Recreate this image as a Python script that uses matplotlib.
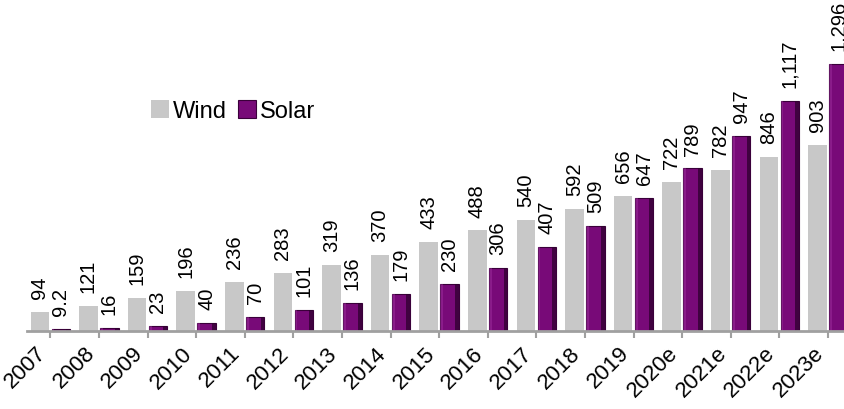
import numpy as np
import matplotlib.pyplot as plt
import matplotlib.transforms as mtransforms

plt.rcParams['font.family'] = ['Liberation Sans', 'DejaVu Sans']

years = ["2007", "2008", "2009", "2010", "2011", "2012", "2013", "2014", "2015",
         "2016", "2017", "2018", "2019", "2020e", "2021e", "2022e", "2023e"]
wind = [94, 121, 159, 196, 236, 283, 319, 370, 433, 488, 540, 592, 656, 722, 782, 846, 903]
solar = [9.2, 16, 23, 40, 70, 101, 136, 179, 230, 306, 407, 509, 647, 789, 947, 1117, 1296]


def fmt(v):
    if v < 10:
        return f"{v:.1f}"
    return f"{v:,.0f}"


fig = plt.figure(figsize=(8.44, 4.10), dpi=100)
ax = fig.add_axes([27 / 844, 78 / 410, 817 / 844, 332 / 410])

x = np.arange(len(years))
w = 0.38
xs = x + 0.215
ax.bar(x - 0.215, wind, w, color="#c8c8c8", label="Wind")
ax.bar(xs, solar, w, color="#780a78", edgecolor="#3a003a", linewidth=0.8, label="Solar")
# darker right side of the solar bars, gives the bevel look
ax.bar(xs + w / 2 - 0.04, solar, 0.08, color="#2e002e", alpha=0.75)
ax.bar(xs - w / 2 + 0.03, solar, 0.06, color="#b040b0", alpha=0.35)

for xi, v in zip(x - 0.215, wind):
    ax.annotate(fmt(v), (xi, v), xytext=(0, 10), textcoords="offset points",
                rotation=90, ha="center", va="bottom", fontsize=14.5)
for xi, v in zip(xs, solar):
    ax.annotate(fmt(v), (xi, v), xytext=(0, 10), textcoords="offset points",
                rotation=90, ha="center", va="bottom", fontsize=14.5)

ax.set_xlim(-0.48, 16.33)
ax.set_ylim(0, 332 / 0.206)
ax.set_xticks(x)
ax.set_xticklabels(years, rotation=45, ha="right", fontsize=16)
shift = mtransforms.ScaledTranslation(5 / 100, -3 / 100, fig.dpi_scale_trans)
for lab in ax.get_xticklabels():
    lab.set_transform(lab.get_transform() + shift)
ax.tick_params(axis="x", length=5, color="#a0a0a0", width=1.5, pad=3)
ax.set_yticks([])
for s in ["top", "right", "left"]:
    ax.spines[s].set_visible(False)
ax.spines["bottom"].set_color("#a0a0a0")
ax.spines["bottom"].set_linewidth(2)

ax.legend(loc="upper left", bbox_to_anchor=(130 / 844, 1 - 80 / 410),
          bbox_transform=fig.transFigure, ncol=2, frameon=False, fontsize=17,
          handlelength=0.75, handleheight=0.75, handletextpad=0.15, columnspacing=0.5)

fig.savefig("out.png", dpi=100)
